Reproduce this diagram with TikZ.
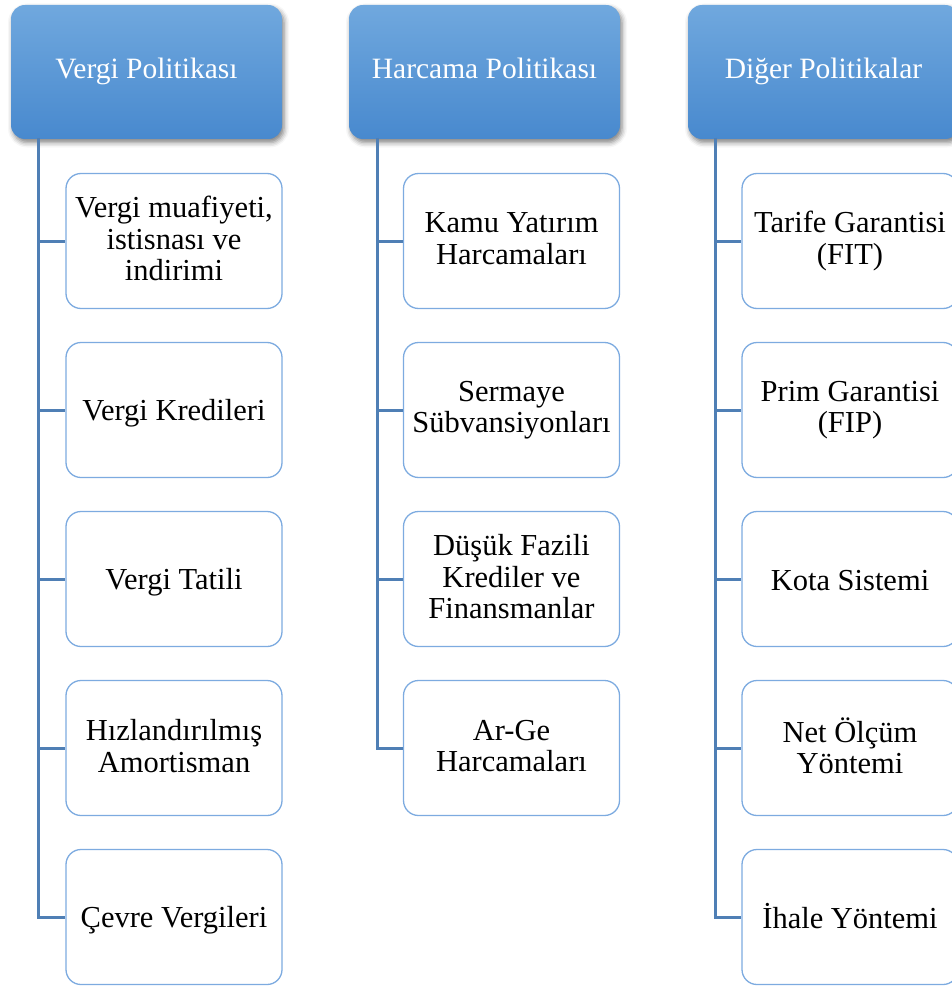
\documentclass[tikz,border=0pt]{standalone}
\usepackage{fontspec}
\setmainfont{Liberation Serif}
\usetikzlibrary{shadows.blur}
\definecolor{hdtop}{HTML}{70A8DE}
\definecolor{hdbot}{HTML}{4889CE}
\definecolor{spine}{HTML}{4F7FB5}
\definecolor{boxline}{HTML}{7DABE0}
% invisible line-box strut that keeps every text line equally tall
\newcommand{\linebox}{\rule[-4.5pt]{0pt}{32.5pt}}
\begin{document}
\begin{tikzpicture}[x=1pt,y=-1pt,
  head/.style={rounded corners=14pt, minimum width=271pt, minimum height=134pt,
    top color=hdtop, bottom color=hdbot, text=white, inner sep=0pt,
    font=\fontsize{29.5}{33}\selectfont, text height=21pt, text depth=7pt,
    blur shadow={shadow xshift=2pt, shadow yshift=-3.5pt, shadow blur radius=5pt, shadow opacity=50}},
  item/.style={rounded corners=15pt, draw=boxline, line width=1.3pt, fill=white,
    minimum width=216pt, minimum height=135pt, align=center, inner sep=0pt,
    font=\fontsize{30.5}{31.5}\selectfont,
    execute at begin node=\linebox, execute at end node=\linebox},
  link/.style={draw=spine, line width=3pt}]
\useasboundingbox (0,0) rectangle (952,987);
\clip (0,0) rectangle (952,987);

% column headers
\node[head] (h1) at (146.5,72) {Vergi Politikası};
\node[head] (h2) at (484.5,72) {Harcama Politikası};
\node[head] (h3) at (823.5,72) {Diğer Politikalar};

% tax policy items
\node[item] (a1) at (174,241) {Vergi muafiyeti,\\istisnası ve\\indirimi};
\node[item] (a2) at (174,410) {Vergi Kredileri};
\node[item] (a3) at (174,579) {Vergi Tatili};
\node[item] (a4) at (174,748) {Hızlandırılmış\\Amortisman};
\node[item] (a5) at (174,917) {Çevre Vergileri};

% spending policy items
\node[item] (b1) at (511.5,241) {Kamu Yatırım\\Harcamaları};
\node[item] (b2) at (511.5,410) {Sermaye\\Sübvansiyonları};
\node[item] (b3) at (511.5,579) {Düşük Fazili\\Krediler ve\\Finansmanlar};
\node[item] (b4) at (511.5,748) {Ar-Ge\\Harcamaları};

% other policy items
\node[item] (c1) at (850,241) {Tarife Garantisi\\(FIT)};
\node[item] (c2) at (850,410) {Prim Garantisi\\(FIP)};
\node[item] (c3) at (850,579) {Kota Sistemi};
\node[item] (c4) at (850,748) {Net Ölçüm\\Yöntemi};
\node[item] (c5) at (850,917) {İhale Yöntemi};

% spines under each header
\coordinate (s1) at (38,138);
\coordinate (s2) at (377,138);
\coordinate (s3) at (715,138);

\draw[link] (s1) |- (a5.west);
\foreach \n in {a1,a2,a3,a4} \draw[link] (s1 |- \n.west) -- (\n.west);
\draw[link] (s2) |- (b4.west);
\foreach \n in {b1,b2,b3} \draw[link] (s2 |- \n.west) -- (\n.west);
\draw[link] (s3) |- (c5.west);
\foreach \n in {c1,c2,c3,c4} \draw[link] (s3 |- \n.west) -- (\n.west);
\end{tikzpicture}
\end{document}
